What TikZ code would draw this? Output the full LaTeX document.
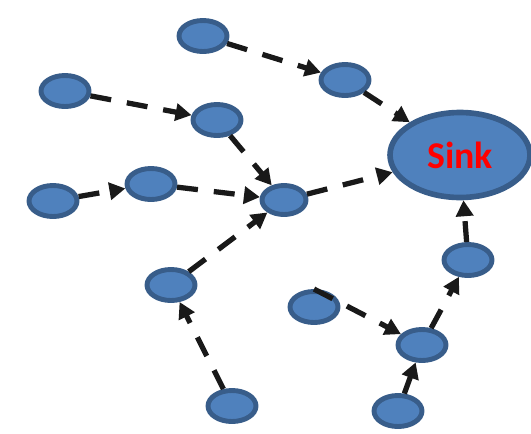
\documentclass[tikz,border=0pt]{standalone}
\usepackage{fontspec}
\setmainfont{Carlito}
\usetikzlibrary{shapes.geometric, arrows.meta}
\definecolor{nodefill}{HTML}{4F81BD}
\definecolor{nodeline}{HTML}{385D8A}

\begin{document}
\begin{tikzpicture}[x=0.02cm, y=-0.02cm,
        sensor/.style={draw=nodeline, fill=nodefill, ellipse, line width=2.8pt, inner sep=0pt, minimum width=0.96cm, minimum height=0.62cm},
        sinkbox/.style={sensor, line width=3.2pt, minimum width=2.8cm, minimum height=1.7cm, text=red, font=\bfseries\fontsize{21.5}{24}\selectfont},
        arrow/.style={-{Triangle[length=0.32cm, width=0.34cm]}, line width=3pt, draw=black!90, dash pattern=on 0.42cm off 0.32cm}
    ]
    \useasboundingbox (0,0) rectangle (531,433);
    \node[sinkbox] (sink) at (460,155) {Sink};
    \node[sensor] (n1) at (203,36) {};
    \node[sensor] (n2) at (345,80) {};
    \node[sensor] (n3) at (65,91) {};
    \node[sensor] (n4) at (217,120) {};
    \node[sensor] (n5) at (53,201) {};
    \node[sensor] (n6) at (151,184) {};
    \node[sensor, minimum width=0.88cm, minimum height=0.58cm] (hub) at (284,200) {};
    \node[sensor] (n8) at (171,285) {};
    \node[sensor] (n9) at (468,260) {};
    \node[sensor] (n10) at (314,307) {};
    \node[sensor] (n11) at (422,345) {};
    \node[sensor] (n12) at (232,406) {};
    \node[sensor] (n13) at (398,411) {};

    \draw[arrow] (n1) -- (n2);
    \draw[arrow] (n2) -- (sink);
    \draw[arrow] (n3) -- (n4);
    \draw[arrow] (n4) -- (hub);
    \draw[arrow] (n5) -- (n6);
    \draw[arrow] (n6) -- (hub);
    \draw[arrow] (hub) -- (sink);
    \draw[arrow] (n8) -- (hub);
    \draw[arrow] (n12) -- (n8);
    \draw[arrow] (n10.north) -- (n11);
    \draw[arrow] (n13) -- (n11);
    \draw[arrow] (n11) -- (n9);
    \draw[arrow] (n9) -- (sink);
\end{tikzpicture}
\end{document}
